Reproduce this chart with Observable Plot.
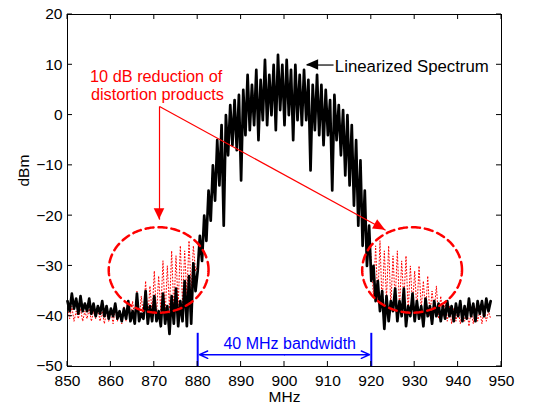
<!DOCTYPE html>
<html><head><meta charset="utf-8">
<script src="https://cdn.jsdelivr.net/npm/d3@7"></script>
<script src="https://cdn.jsdelivr.net/npm/@observablehq/plot@0.6"></script>
<style>body{margin:0;background:#fff}</style>
</head><body><div id="chart"></div>
<script>
// Frequency sampling (MHz)
const freqStart = 850, freqStep = 0.5;
// Linearized spectrum (dBm), 850 → 947.5 MHz
const linearized = [
 -37,-39,-35.5,-38.5,-36.5,-39.5,-36,-39,-37.5,-39,
 -36.5,-39.5,-37.5,-40,-38,-39.5,-37,-40,-38,-40.5,
 -38.5,-40,-37.5,-40.5,-39,-41,-38.5,-40.5,-37,-41,
 -39,-41.5,-35.5,-41,-39.5,-40.5,-35,-41.5,-38,-41,
 -36,-41,-39,-42,-35.5,-41.5,-38,-43.5,-36,-41.5,
 -34.5,-42,-37,-41,-33,-42,-32,-41.5,-29.5,-35,
 -31,-24,-29,-20,-25,-15,-21,-10,-17,-5,
 -14,-2,-22,0,-8,2,-6,3,-7,4,
 -13,5,-4,8,-3,6,-2,9,-5,7,
 -1,11,-2,8,0,10,-3,12,1,10,
 -2,11,0,9,-5,10,-1,8,-2,9,
 -1,7,-11,6,-3,8,-4,6,-6,5,
 -4,3,-15,4,-5,2,-8,1,-12,0,
 -14,-2,-18,-5,-22,-9,-26,-15,-30,-22,
 -33,-30,-37,-33,-39,-35,-42.5,-36,-41,-37,
 -39,-34.5,-41,-37,-40,-34.5,-42,-38,-40,-35.5,
 -41,-37,-40.5,-38,-42,-36.5,-40,-38,-41.5,-37,
 -40,-37.5,-41,-38,-40.5,-37,-40,-38,-41,-37.5,
 -40,-37,-41,-38,-40.5,-36.5,-40,-37.5,-41,-37,
 -39.5,-37,-40,-36.5,-39,-37
];
// Original (distorted) spectrum (dBm), red dotted
const distorted = [
 -38.5,-40.5,-38,-41,-39,-40.5,-38.5,-41,-39,-40.5,
 -38.5,-41,-39,-40.5,-38.5,-41,-39,-41.5,-39,-41,
 -39,-41.5,-38.5,-41,-39,-41.5,-38,-41,-37.5,-41,
 -37,-40.5,-35,-41,-36,-40,-33,-40.5,-34,-39.5,
 -31,-40,-32,-39,-29,-40,-30,-38.5,-27,-39,
 -28,-38,-26,-37.5,-27,-36,-25,-35,-26,-31,
 -30,-25,-28,-21,-24,-16,-20,-11,-16,-6,
 -13,-3,-20,-1,-7,1,-5,2,-6,3,
 -12,4,-3,7,-2,5,-1,8,-4,6,
 0,10,-1,7,1,9,-2,11,2,9,
 -1,10,1,8,-4,9,0,7,-1,8,
 0,6,-10,5,-2,7,-3,5,-5,4,
 -3,2,-14,3,-4,1,-7,0,-11,-1,
 -13,-3,-17,-6,-21,-10,-25,-16,-28,-23,
 -29,-36,-26,-37,-25,-38,-27,-36.5,-26,-38,
 -28,-37,-27,-38.5,-29,-37,-28,-39,-30,-38,
 -31,-39,-30,-38.5,-33,-39.5,-32,-40,-35,-39,
 -34,-40.5,-36,-40,-37,-41,-38,-41.5,-38.5,-41,
 -38.5,-41.5,-39,-41,-38.5,-42,-39,-41.5,-38.5,-41,
 -39,-41.5,-38.5,-41,-39,-40.5
];
const xTicks = [850,860,870,880,890,900,910,920,930,940,950];
const yTicks = [-50,-40,-30,-20,-10,0,10,20];

// Annotations (data coordinates)
const ellipses = [{cx: 871.0, cy: -30.8, rx: 11.5, ry: 8.5}, {cx: 929.4, cy: -30.8, rx: 11.5, ry: 8.5}];
const redText = [{x: 855.2, y: 7.55, t: "10 dB reduction of"}, {x: 855.4, y: 4.05, t: "distortion products"}];
const redLinks = [{x1: 871.2, y1: 1.7, x2: 871.2, y2: -20.8}, {x1: 871.2, y1: 1.7, x2: 923.3, y2: -22.9}];
const blackLabel = [{x: 911.6, y: 9.55, t: "Linearized Spectrum"}];
const blackLink = [{x1: 911.3, y1: 9.95, x2: 905.1, y2: 9.95}];
const bandEdges = [880, 920];
const bandArrowY = -47.65, bandLineTop = -43.4;
const bandText = [{x: 901.2, y: -45.45, t: "40 MHz bandwidth"}];
const heads = [
  {x1: 871.2, y1: 1.7, x2: 871.2, y2: -20.8, len: 11, w: 5.3, color: "#ff0000"},
  {x1: 871.2, y1: 1.7, x2: 923.3, y2: -22.9, len: 12, w: 5.3, color: "#ff0000"},
  {x1: 911.3, y1: 9.95, x2: 905.1, y2: 9.95, len: 12, w: 5.3, color: "#000000"}
];

const spectrum = linearized.map((v, i) => ({f: freqStart + i * freqStep, v}));
const original = distorted.map((v, i) => ({f: freqStart + i * freqStep, v}));
const ellipsePts = ellipses.flatMap((e, i) => d3.range(0, 362, 2).map(a => ({
  id: i, x: e.cx + e.rx * Math.cos(a * Math.PI / 180), y: e.cy + e.ry * Math.sin(a * Math.PI / 180)})));

function arrowHeads(index, scales) {
  const g = d3.create("svg:g");
  for (const t of heads) {
    const x1 = scales.x(t.x1), y1 = scales.y(t.y1), x2 = scales.x(t.x2), y2 = scales.y(t.y2);
    const a = Math.atan2(y2 - y1, x2 - x1);
    const bx = x2 - t.len * Math.cos(a), by = y2 - t.len * Math.sin(a);
    const px = -Math.sin(a) * t.w, py = Math.cos(a) * t.w;
    g.append("path").attr("d", `M${x2},${y2}L${bx + px},${by + py}L${bx - px},${by - py}Z`).attr("fill", t.color);
  }
  return g.node();
}
function frameTicks(index, scales, values, dims) {
  const g = d3.create("svg:g").attr("stroke", "black").attr("stroke-width", 1);
  const l = dims.marginLeft, t = dims.marginTop, r = dims.width - dims.marginRight, b = dims.height - dims.marginBottom;
  for (const v of xTicks) {
    const x = scales.x(v);
    g.append("line").attr("x1", x).attr("x2", x).attr("y1", b).attr("y2", b - 5);
    g.append("line").attr("x1", x).attr("x2", x).attr("y1", t).attr("y2", t + 5);
  }
  for (const v of yTicks) {
    const y = scales.y(v);
    g.append("line").attr("x1", l).attr("x2", l + 5).attr("y1", y).attr("y2", y);
    g.append("line").attr("x1", r).attr("x2", r - 5).attr("y1", y).attr("y2", y);
  }
  return g.node();
}

const chart = Plot.plot({
  width: 535, height: 404,
  marginLeft: 67, marginRight: 34, marginTop: 14, marginBottom: 38,
  style: {fontFamily: "'Liberation Sans', Arial, Helvetica, sans-serif", fontSize: "15.5px", color: "black", background: "white", overflow: "visible"},
  x: {domain: [850, 950], ticks: xTicks, tickSize: 0, tickPadding: 8, label: null, tickFormat: d => String(d)},
  y: {domain: [-50, 20], ticks: yTicks, tickSize: 0, tickPadding: 5, label: null, tickFormat: d => d < 0 ? "\u2212" + Math.abs(d) : String(d)},
  marks: [
    Plot.line(original, {x: "f", y: "v", stroke: "#ff0000", strokeWidth: 1, strokeDasharray: "1,2.2"}),
    Plot.line(spectrum, {x: "f", y: "v", stroke: "black", strokeWidth: 2.7, strokeLinejoin: "round"}),
    Plot.line(ellipsePts, {x: "x", y: "y", z: "id", stroke: "#ff0000", strokeWidth: 2.5, strokeDasharray: "8,5"}),
    Plot.link(redLinks, {x1: "x1", y1: "y1", x2: "x2", y2: "y2", stroke: "#ff0000", strokeWidth: 1.2}),
    Plot.link(blackLink, {x1: "x1", y1: "y1", x2: "x2", y2: "y2", stroke: "#333", strokeWidth: 1.5}),
    arrowHeads,
    Plot.ruleX(bandEdges, {x: d => d, y1: bandLineTop, y2: -50, stroke: "#0000ff", strokeWidth: 2}),
    Plot.arrow([{a: 900, b: bandEdges[0] + 0.4}, {a: 900, b: bandEdges[1] - 0.4}], {x1: "a", x2: "b", y1: bandArrowY, y2: bandArrowY, stroke: "#0000ff", strokeWidth: 1.5, headLength: 9, headAngle: 48}),
    Plot.text(redText, {x: "x", y: "y", text: "t", fill: "#ff0000", textAnchor: "start", lineAnchor: "middle", fontSize: 16.3}),
    Plot.text(blackLabel, {x: "x", y: "y", text: "t", fill: "black", textAnchor: "start", lineAnchor: "middle", fontSize: 16.8}),
    Plot.text(bandText, {x: "x", y: "y", text: "t", fill: "#0000ff", textAnchor: "middle", lineAnchor: "middle", fontSize: 16}),
    Plot.frame({stroke: "black", strokeWidth: 1}),
    frameTicks,
    Plot.text(["MHz"], {frameAnchor: "bottom", dy: 31, text: d => d, lineAnchor: "middle", fontSize: 15.5}),
    Plot.text(["dBm"], {frameAnchor: "left", dx: -43.5, dy: -4, rotate: -90, text: d => d, lineAnchor: "middle", fontSize: 15.5})
  ]
});
document.getElementById("chart").appendChild(chart);
</script>
</body></html>
